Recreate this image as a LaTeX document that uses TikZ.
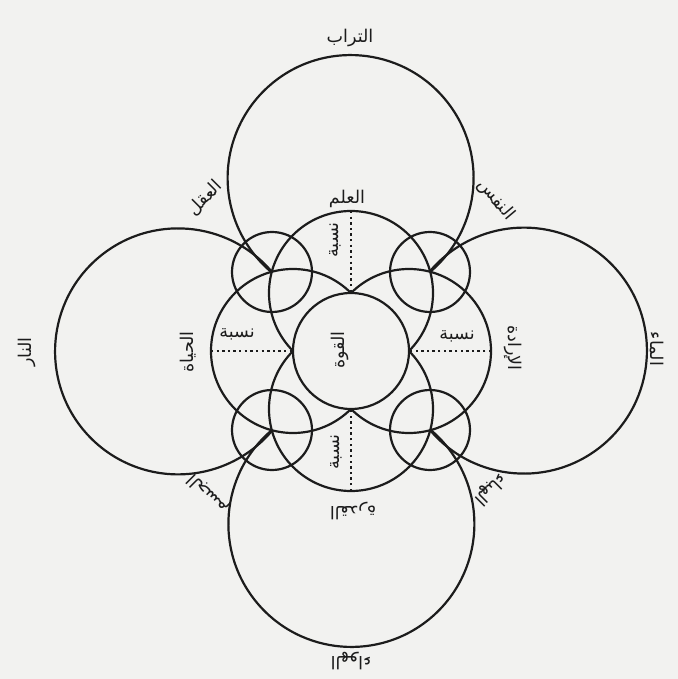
\documentclass[tikz,border=0pt]{standalone}
\usepackage{fontspec}
\newfontfamily\arabicfont[Script=Arabic]{DejaVu Sans}
\TeXXeTstate=1
\definecolor{paper}{RGB}{242,242,240}
\definecolor{ink}{RGB}{28,28,28}
\newcommand{\artext}[1]{{\arabicfont\beginR #1\endR}}
\tikzset{
  ring/.style={draw=ink, line width=1.25pt},
  dotline/.style={draw=ink, line width=1.3pt, dash pattern=on 1.3pt off 1.9pt},
  lab/.style={font=\fontsize{10}{11}\selectfont, text=ink, inner sep=0pt},
}
\begin{document}
\begin{tikzpicture}[x=0.02cm, y=0.02cm]
  \useasboundingbox (-351,-328) rectangle (327,351);
  \fill[paper] (-351,-328) rectangle (327,351);
  % centres
  \coordinate (O) at (0,0);
  \coordinate (TO) at (0,173);
  \coordinate (LO) at (-173,0);
  \coordinate (RO) at (173,0);
  \coordinate (BO) at (0,-173);
  \coordinate (N) at (0,58);
  \coordinate (S) at (0,-58);
  \coordinate (W) at (-58,0);
  \coordinate (E) at (58,0);
  \coordinate (QTL) at (-79,79);
  \coordinate (QTR) at (79,79);
  \coordinate (QBL) at (-79,-79);
  \coordinate (QBR) at (79,-79);
  % outer arcs
  \draw[ring] (QTR) arc[start angle=-49.8, end angle=229.8, radius=123];
  \draw[ring] (QTL) arc[start angle=40.2, end angle=319.8, radius=123];
  \draw[ring] (QBR) arc[start angle=-139.8, end angle=139.8, radius=123];
  \draw[ring] (QBL) arc[start angle=130.2, end angle=409.8, radius=123];
  % small circles
  \foreach \q in {QTL,QTR,QBL,QBR} \draw[ring] (\q) circle[radius=40];
  % inner circles
  \foreach \q in {N,S,W,E} \draw[ring] (\q) circle[radius=82];
  % central circle
  \filldraw[ring, fill=paper] (O) circle[radius=58];
  % dotted radii
  \coordinate (Ntop) at (0,140);
  \coordinate (Sbot) at (0,-140);
  \coordinate (Wl) at (-140,0);
  \coordinate (Er) at (140,0);
  \draw[dotline] (Ntop) -- (N);
  \draw[dotline] (Sbot) -- (S);
  \draw[dotline] (Wl) -- (W);
  \draw[dotline] (Er) -- (E);
  % labels
  \node[lab] (earth) at (-1,313) {\artext{التراب}};
  \node[lab, rotate=90] (fire) at (-324,-1) {\artext{النار}};
  \node[lab, rotate=-90] (water) at (306,2) {\artext{الماء}};
  \node[lab, rotate=180] (air) at (0,-310) {\artext{الهواء}};
  \node[lab] (knowledge) at (-4,152) {\artext{العلم}};
  \node[lab, rotate=90] (life) at (-163,-1) {\artext{الحياة}};
  \node[lab, rotate=-90] (will) at (162,3) {\artext{الإرادة}};
  \node[lab, rotate=180] (power) at (2,-160) {\artext{القدرة}};
  \node[lab, rotate=90] (centre) at (-11,1) {\artext{القوة}};
  \node[lab, rotate=45] (intellect) at (-146,153) {\artext{العقل}};
  \node[lab, rotate=-50] (soul) at (145,151) {\artext{النفس}};
  \node[lab, rotate=135] (body) at (-143,-143) {\artext{الجسم}};
  \node[lab, rotate=-135] (dust) at (139,-138) {\artext{الهباء}};
  \node[lab, rotate=90] (relN) at (-16,111) {\artext{نسبة}};
  \node[lab, rotate=90] (relS) at (-15,-101) {\artext{نسبة}};
  \node[lab] (relW) at (-114,17) {\artext{نسبة}};
  \node[lab] (relE) at (106,15) {\artext{نسبة}};
\end{tikzpicture}
\end{document}
